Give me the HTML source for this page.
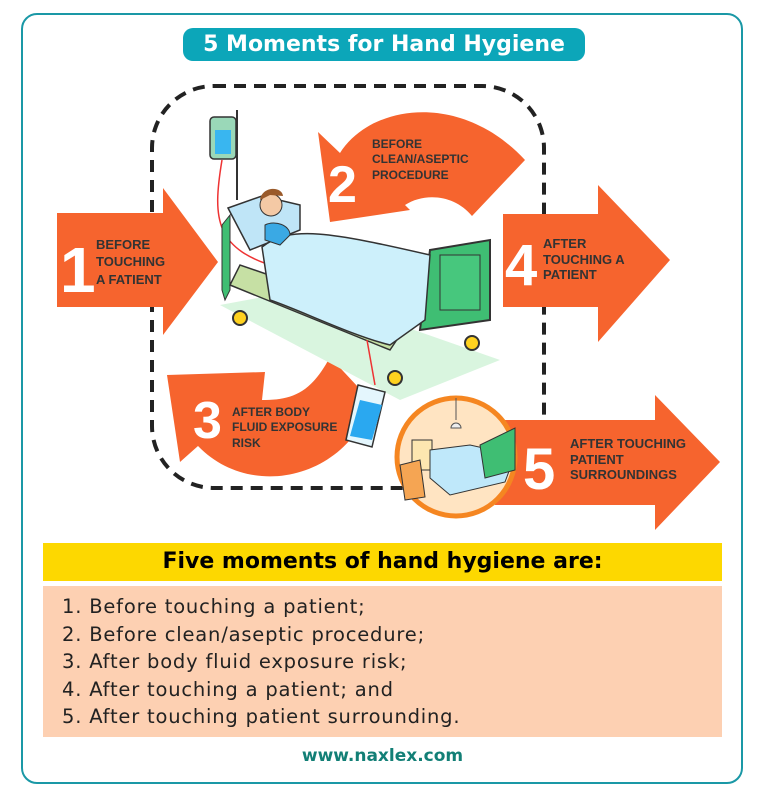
<!DOCTYPE html>
<html><head><meta charset="utf-8"><style>
body{margin:0;width:765px;height:805px;background:#fff;font-family:"Liberation Sans",sans-serif;position:relative;overflow:hidden}
.frame{position:absolute;left:21px;top:13px;width:718px;height:767px;border:2.5px solid #1a98a6;border-radius:16px}
.title{position:absolute;left:183px;top:28px;width:402px;height:33px;background:#0ca6b9;border-radius:10px;color:#fff;font-family:"DejaVu Sans",sans-serif;font-size:22px;font-weight:bold;text-align:center;line-height:33px}
.yb{position:absolute;left:43px;top:543px;width:679px;height:38px;background:#fdd800;font-family:"DejaVu Sans",sans-serif;font-size:22px;font-weight:bold;text-align:center;line-height:38px}
.pb{position:absolute;left:43px;top:586px;width:679px;height:151px;background:#fdd0b2}
.pb div{position:absolute;left:19px;font-family:"DejaVu Sans",sans-serif;font-size:19.5px;letter-spacing:0.8px;color:#222}
.ft{position:absolute;top:746px;width:765px;text-align:center;color:#127f76;font-weight:bold;font-family:"DejaVu Sans",sans-serif;font-size:17px}
svg{position:absolute;left:0;top:0}
</style></head><body>
<div class="frame"></div>
<div class="title">5 Moments for Hand Hygiene</div>
<svg width="765" height="540" viewBox="0 0 765 540" font-family="Liberation Sans" font-weight="bold">
<rect x="152" y="86" width="392" height="402" rx="62" fill="none" stroke="#222" stroke-width="4" stroke-dasharray="12 8"/>
<polygon points="57,213 163,213 163,188 218,262 163,335 163,307 57,307" fill="#f6642e"/>
<text x="60" y="292" font-size="64" fill="#fff">1</text>
<text font-size="13" fill="#333"><tspan x="96" y="249">BEFORE</tspan><tspan x="96" y="266">TOUCHING</tspan><tspan x="96" y="284">A FATIENT</tspan></text>
<polygon points="503,214 598,214 598,185 670,260 598,342 598,307 503,307" fill="#f6642e"/>
<text x="505" y="285" font-size="58" fill="#fff">4</text>
<text font-size="13" fill="#333"><tspan x="543" y="248">AFTER</tspan><tspan x="543" y="264">TOUCHING A</tspan><tspan x="543" y="279">PATIENT</tspan></text>
<polygon points="495,420 655,420 655,395 720,462 655,530 655,505 495,505" fill="#f6642e"/>
<text x="523" y="489" font-size="58" fill="#fff">5</text>
<text font-size="13" fill="#333"><tspan x="570" y="448">AFTER TOUCHING</tspan><tspan x="570" y="464">PATIENT</tspan><tspan x="570" y="479">SURROUNDINGS</tspan></text>
<path d="M472,216 C455,195 425,192 405,205 L410,210 L330,222 L318,132 L340,153 C370,105 460,90 525,160 Z" fill="#f6642e"/>
<text x="328" y="202" font-size="52" fill="#fff">2</text>
<text font-size="12" fill="#333"><tspan x="372" y="148">BEFORE</tspan><tspan x="372" y="163">CLEAN/ASEPTIC</tspan><tspan x="372" y="179">PROCEDURE</tspan></text>
<path d="M330,357 C310,395 290,400 262,400 L265,372 L167,375 L180,462 L198,446 C250,500 345,480 372,402 Z" fill="#f6642e"/>
<text x="193" y="438" font-size="52" fill="#fff">3</text>
<text font-size="12" fill="#333"><tspan x="232" y="416">AFTER BODY</tspan><tspan x="232" y="431">FLUID EXPOSURE</tspan><tspan x="232" y="447">RISK</tspan></text>
<polygon points="220,305 300,290 500,360 400,400" fill="#d9f5df"/>
<line x1="237" y1="110" x2="237" y2="200" stroke="#333" stroke-width="2"/>
<rect x="210" y="117" width="26" height="42" rx="4" fill="#9ad8b8" stroke="#333" stroke-width="1.5"/>
<rect x="215" y="130" width="16" height="24" fill="#39b6f0"/>
<path d="M222,160 C212,220 215,250 280,268" stroke="#e33" stroke-width="1.5" fill="none"/>
<polygon points="222,225 230,215 230,290 225,300 222,290" fill="#3fbe73" stroke="#333"/>
<polygon points="230,285 390,350 400,335 400,320 240,265" fill="#c6e0a4" stroke="#333" stroke-width="1.5"/>
<polygon points="430,250 490,240 490,320 420,330" fill="#3fbe73" stroke="#333" stroke-width="2"/>
<rect x="440" y="255" width="40" height="55" fill="#47c77d" stroke="#333"/>
<polygon points="228,208 262,196 300,205 300,230 250,250" fill="#bfe5f7" stroke="#333" stroke-width="1.5"/>
<path d="M262,247 C290,225 330,232 430,255 L425,320 L390,345 C350,335 300,310 270,300 Z" fill="#cdf0fb" stroke="#333" stroke-width="1.5"/>
<path d="M265,225 C275,220 290,225 290,235 L280,245 L265,240 Z" fill="#3aa9e4" stroke="#333"/>
<circle cx="271" cy="205" r="11" fill="#f4c9a5" stroke="#333"/>
<path d="M260,200 C262,186 282,186 283,196 L270,195 Z" fill="#9a5a2a"/>
<circle cx="240" cy="318" r="7" fill="#ffd21f" stroke="#333" stroke-width="2"/>
<circle cx="472" cy="343" r="7" fill="#ffd21f" stroke="#333" stroke-width="2"/>
<circle cx="395" cy="378" r="7" fill="#ffd21f" stroke="#333" stroke-width="2"/>
<path d="M367,340 L375,385" stroke="#e33" stroke-width="1.5"/>
<polygon points="358,385 385,392 372,447 346,440" fill="#e4f6fd" stroke="#333" stroke-width="1.5"/>
<polygon points="360,400 382,405 372,440 350,436" fill="#2aa8f0"/>
<circle cx="456" cy="457" r="59" fill="#ffe4c2" stroke="#f58621" stroke-width="5"/>
<line x1="456" y1="398" x2="456" y2="420" stroke="#555"/>
<path d="M451,428 a5,5 0 0 1 10,0 Z" fill="#eee" stroke="#555"/>
<rect x="412" y="440" width="20" height="30" fill="#fde6b0" stroke="#333"/>
<polygon points="400,465 420,460 425,497 405,500" fill="#f5a553" stroke="#333"/>
<polygon points="430,450 470,445 515,455 505,482 450,495 430,478" fill="#bfe8fa" stroke="#333"/>
<polygon points="480,445 515,428 515,470 485,478" fill="#3fbe73" stroke="#333"/>
</svg>
<div class="yb">Five moments of hand hygiene are:</div>
<div class="pb">
<div style="top:9px">1. Before touching a patient;</div>
<div style="top:37px">2. Before clean/aseptic procedure;</div>
<div style="top:64px">3. After body fluid exposure risk;</div>
<div style="top:92px">4. After touching a patient; and</div>
<div style="top:119px">5. After touching patient surrounding.</div>
</div>
<div class="ft">www.naxlex.com</div>
</body></html>
